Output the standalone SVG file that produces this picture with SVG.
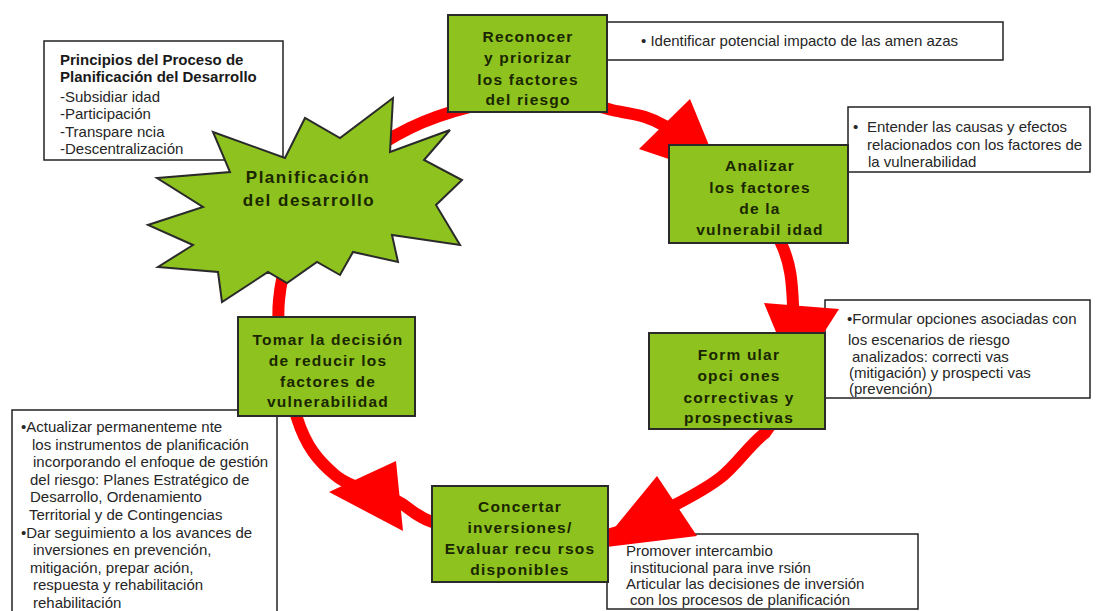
<svg xmlns="http://www.w3.org/2000/svg" width="1096" height="611" viewBox="0 0 1096 611">
<style>
.tb{fill:#fff;stroke:#222;stroke-width:1.5}
.t{font-family:"Liberation Sans",Arial,sans-serif;font-size:15px;fill:#262626}
.tt{font-family:"Liberation Sans",Arial,sans-serif;font-size:15px;font-weight:bold;fill:#1a1a1a}
.gb{fill:#8dc21f;stroke:#2a2a2a;stroke-width:2}
.gt{font-family:"Liberation Sans",Arial,sans-serif;font-size:15.5px;font-weight:bold;fill:#1a2600;text-anchor:middle;letter-spacing:1.2px}
.ring{fill:none;stroke:#ff0000;stroke-width:12}
.ah{fill:#ff0000}
</style>
<rect width="1096" height="611" fill="#fff"/>

<g id="principios">
<rect class="tb" x="44" y="41" width="239" height="119"/>
<text class="tt" x="60" y="65">Principios del Proceso de</text>
<text class="tt" x="60" y="82">Planificación del Desarrollo</text>
<text class="t" x="60" y="102">-Subsidiar idad</text>
<text class="t" x="60" y="119">-Participación</text>
<text class="t" x="60" y="137">-Transpare ncia</text>
<text class="t" x="60" y="154">-Descentralización</text>
</g>

<g id="nota-reconocer">
<rect class="tb" x="607" y="22" width="396" height="38"/>
<text class="t" x="641" y="46">• Identificar potencial impacto de las amen azas</text>
</g>

<g id="nota-analizar">
<rect class="tb" x="848" y="107" width="242" height="65"/>
<text class="t" x="853" y="132">•</text>
<text class="t" x="867" y="132">Entender las causas y efectos</text>
<text class="t" x="867" y="150">relacionados con los factores de</text>
<text class="t" x="868" y="167">la vulnerabilidad</text>
</g>

<g id="nota-formular">
<rect class="tb" x="825" y="300" width="265" height="98"/>
<text class="t" x="847" y="324">•Formular opciones asociadas con</text>
<text class="t" x="848" y="345">los escenarios de riesgo</text>
<text class="t" x="852" y="362">analizados: correcti vas</text>
<text class="t" x="849" y="378">(mitigación) y prospecti vas</text>
<text class="t" x="849" y="394">(prevención)</text>
</g>

<g id="nota-concertar">
<rect class="tb" x="607" y="534" width="311" height="75"/>
<text class="t" x="626" y="556">Promover intercambio</text>
<text class="t" x="630" y="573">institucional para inve rsión</text>
<text class="t" x="626" y="589">Articular las decisiones de inversión</text>
<text class="t" x="630" y="605">con los procesos de planificación</text>
</g>

<g id="nota-tomar">
<rect class="tb" x="12" y="410" width="265" height="215"/>
<text class="t" x="21" y="432">•Actualizar permanenteme nte</text>
<text class="t" x="32" y="450">los instrumentos de planificación</text>
<text class="t" x="33" y="467">incorporando el enfoque de gestión</text>
<text class="t" x="30" y="485">del riesgo: Planes Estratégico de</text>
<text class="t" x="30" y="502">Desarrollo, Ordenamiento</text>
<text class="t" x="29" y="520">Territorial y de Contingencias</text>
<text class="t" x="21" y="538">•Dar seguimiento a los avances de</text>
<text class="t" x="33" y="555">inversiones en prevención,</text>
<text class="t" x="30" y="573">mitigación, prepar ación,</text>
<text class="t" x="33" y="590">respuesta y rehabilitación</text>
<text class="t" x="33" y="608">rehabilitación</text>
</g>

<g id="connectors">
<path class="ring" d="M297,418 C287.7,388.8 275.5,336.3 279,300 C282.5,263.7 296.2,228.7 318,200 C339.8,171.3 374.7,145.3 410,128 C445.3,110.7 496.3,99 530,96 C563.7,93 589.5,105 612,110 C634.5,115 644.5,114.3 665,126 C685.5,137.7 715.7,160.5 735,180 C754.3,199.5 771.3,222.2 781,243 C790.7,263.8 792,281.3 793,305 C794,328.7 791.7,363.7 787,385 C782.3,406.3 776.2,417.5 765,433 C748.3,445.8 736.7,465.2 720,478 C703.3,490.8 683.8,500.5 665,510 C646.2,519.5 632,529.2 607,535 C582,540.8 544.2,547.2 515,545 C485.8,542.8 452,529.5 432,522 C412,514.5 411.2,507.8 395,500 C378.8,492.2 351.3,488.7 335,475 C318.7,461.3 306.3,447.2 297,418 Z"/>
<polygon class="ah" points="690,99 639,149 722,177"/>
<polygon class="ah" points="764,303 839,309 795,378"/>
<polygon class="ah" points="657,476 697,536 598,548"/>
<polygon class="ah" points="396,461 403,531 329,492"/>
</g>

<g id="planificacion">
<polygon class="gb" points="393,98 390,152 450,130 424,160 462,180 436,205 460,245 392,235 398,262 353,252 340,275 317,262 287,283 268,272 222,302 218,272 158,267 193,245 148,225 203,207 157,178 230,172 213,132 285,158 305,118 340,138"/>
<text class="gt" x="308" y="183" style="font-size:17px;letter-spacing:1.5px">Planificación</text>
<text class="gt" x="309" y="206" style="font-size:17px;letter-spacing:1.5px">del desarrollo</text>
</g>

<g id="reconocer">
<rect class="gb" x="448" y="15" width="159" height="97"/>
<text class="gt" x="528" y="42">Reconocer</text>
<text class="gt" x="528" y="63">y priorizar</text>
<text class="gt" x="528" y="85">los factores</text>
<text class="gt" x="528" y="105">del riesgo</text>
</g>

<g id="analizar">
<rect class="gb" x="669" y="145" width="179" height="98"/>
<text class="gt" x="760" y="171">Analizar</text>
<text class="gt" x="760" y="193">los factores</text>
<text class="gt" x="760" y="214">de la</text>
<text class="gt" x="760" y="235">vulnerabil idad</text>
</g>

<g id="formular">
<rect class="gb" x="649" y="333" width="176" height="96"/>
<text class="gt" x="739" y="360">Form ular</text>
<text class="gt" x="739" y="381">opci ones</text>
<text class="gt" x="739" y="403">correctivas y</text>
<text class="gt" x="739" y="423">prospectivas</text>
</g>

<g id="concertar">
<rect class="gb" x="432" y="486" width="176" height="96"/>
<text class="gt" x="520" y="512">Concertar</text>
<text class="gt" x="520" y="533">inversiones/</text>
<text class="gt" x="520" y="554">Evaluar recu rsos</text>
<text class="gt" x="520" y="575">disponibles</text>
</g>

<g id="tomar">
<rect class="gb" x="238" y="317" width="177" height="99"/>
<text class="gt" x="328" y="345">Tomar la decisión</text>
<text class="gt" x="328" y="366">de reducir los</text>
<text class="gt" x="328" y="387">factores de</text>
<text class="gt" x="328" y="407">vulnerabilidad</text>
</g>
</svg>
